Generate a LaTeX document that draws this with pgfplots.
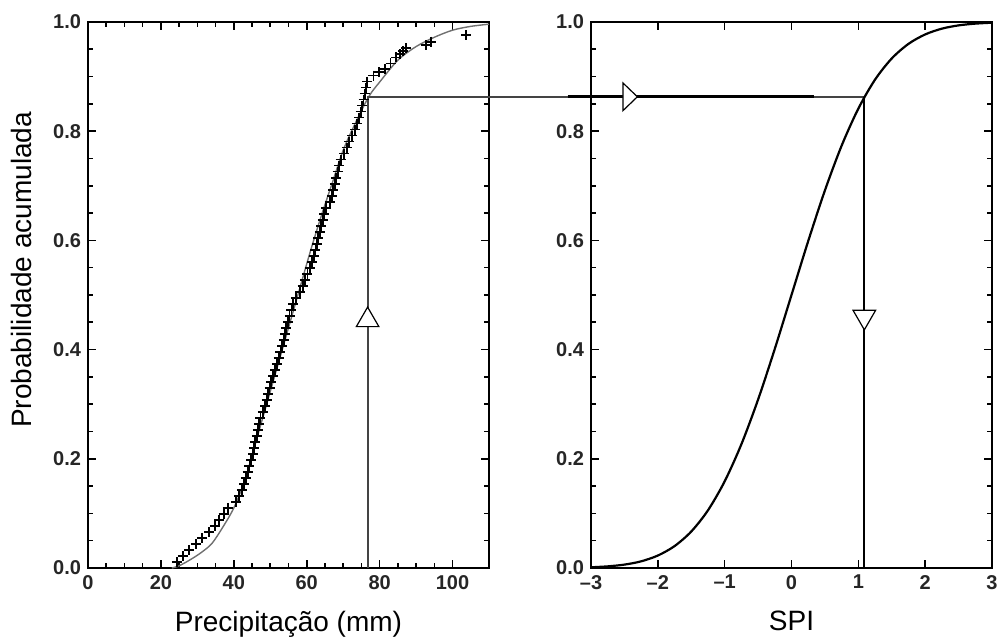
\documentclass[border=0pt]{standalone}
\usepackage{fontspec}
\setmainfont{Liberation Sans}
\usepackage{pgfplots}
\pgfplotsset{compat=1.18}
\definecolor{fitgray}{HTML}{707070}
\definecolor{guide}{HTML}{444444}

\pgfplotstableread{
x y
24.4 0.011
26.0 0.022
27.8 0.033
29.6 0.044
31.3 0.055
33.2 0.066
34.8 0.077
36.0 0.088
37.2 0.099
38.4 0.110
40.6 0.121
41.5 0.132
42.2 0.143
42.8 0.154
43.3 0.165
43.8 0.176
44.3 0.187
44.8 0.198
45.3 0.209
45.6 0.220
45.9 0.231
46.3 0.242
46.6 0.253
46.9 0.264
47.3 0.275
48.0 0.286
48.6 0.297
49.0 0.308
49.4 0.319
49.8 0.330
50.3 0.341
50.8 0.352
51.3 0.363
51.8 0.374
52.3 0.385
52.8 0.396
53.3 0.407
53.7 0.418
54.0 0.429
54.4 0.440
54.8 0.451
55.3 0.462
55.8 0.473
56.3 0.484
57.0 0.495
58.2 0.506
58.9 0.517
59.5 0.528
60.2 0.539
60.8 0.550
61.4 0.561
62.0 0.572
62.4 0.583
62.8 0.594
63.2 0.605
63.6 0.616
64.0 0.627
64.4 0.638
64.8 0.649
65.3 0.660
66.3 0.671
66.9 0.682
67.3 0.693
67.7 0.704
68.1 0.715
68.5 0.726
68.9 0.737
69.3 0.748
70.3 0.759
71.0 0.770
71.6 0.781
72.5 0.792
73.3 0.803
73.9 0.814
74.4 0.825
74.8 0.836
75.2 0.847
75.6 0.858
75.9 0.869
76.2 0.880
76.6 0.891
78.3 0.902
79.8 0.908
81.5 0.914
83.0 0.924
84.5 0.935
85.5 0.941
86.5 0.947
87.3 0.952
92.8 0.958
94.0 0.964
103.8 0.976
}\empirical

% fitted gamma cdf
\pgfplotstableread{
x y
23 0.000
25 0.004
28 0.015
31 0.028
34 0.045
37 0.075
40 0.110
43 0.160
46 0.230
49 0.300
52 0.370
55 0.440
58 0.510
61 0.580
64 0.645
67 0.705
70 0.765
73 0.810
77 0.863
80 0.890
85 0.930
90 0.955
95 0.972
100 0.985
105 0.992
110 0.996
}\gammafit

% standard normal cdf
\pgfplotstableread{
x y
-3 0.0013
-2.75 0.0030
-2.5 0.0062
-2.25 0.0122
-2 0.0228
-1.75 0.0401
-1.5 0.0668
-1.25 0.1056
-1 0.1587
-0.75 0.2266
-0.5 0.3085
-0.25 0.4013
0 0.5
0.25 0.5987
0.5 0.6915
0.75 0.7734
1 0.8413
1.25 0.8944
1.5 0.9332
1.75 0.9599
2 0.9772
2.25 0.9878
2.5 0.9938
2.75 0.9970
3 0.9987
}\normalcdf

\pgfplotsset{
  panel/.style={
    scale only axis, width=200.5pt, height=273pt,
    ymin=0, ymax=1,
    ytick={0,0.2,0.4,0.6,0.8,1}, minor y tick num=3,
    yticklabel style={/pgf/number format/.cd, fixed, fixed zerofill, precision=1},
    /pgf/number format/assume math mode=true,
    tick label style={font=\fontsize{10}{12}\selectfont\bfseries, text=black!85},
    label style={font=\fontsize{14}{17}\selectfont},
    xlabel style={yshift=-4pt},
    axis line style={line width=1pt},
    major tick length=4pt, minor tick length=2.5pt,
    every tick/.style={black, line width=0.8pt},
    clip=false,
  }
}

\begin{document}
\begin{tikzpicture}
\useasboundingbox (-44pt,-34.5pt) rectangle (454.5pt,284pt);
\begin{axis}[
  panel,
  xmin=0, xmax=110,
  xtick={0,20,40,60,80,100}, minor x tick num=3,
  xlabel={Precipitação (mm)},
  ylabel={Probabilidade acumulada},
  ylabel style={at={(axis description cs:-0.165,0.546)}, anchor=center},
]
\addplot[fitgray, line width=0.7pt, smooth] table {\gammafit};
\addplot[only marks, mark=+, mark size=2.5pt, mark options={line width=0.9pt}, black] table {\empirical};
% guide lines: up from 76.7 mm, then across to the SPI panel (x = 212.96 in these units)
\addplot[guide, line width=0.9pt] coordinates {(76.7,0) (76.7,0.863) (212.96,0.863)};
\addplot[only marks, mark=triangle*, mark size=6.5pt, mark options={fill=white, draw=black, line width=0.6pt}] coordinates {(76.7,0.454)};
\end{axis}

\begin{axis}[
  panel,
  at={(251.5pt,0pt)},
  xmin=-3, xmax=3,
  xtick={-3,-2,-1,0,1,2,3},
  xticklabels={\textendash3,\textendash2,\textendash1,0,1,2,3},
  xlabel={SPI},
]
\addplot[black, line width=1.1pt, smooth] table {\normalcdf};
\addplot[black, line width=0.9pt] coordinates {(1.09,0) (1.09,0.862)};
\addplot[black, line width=1.3pt] coordinates {(-3.35,0.863) (0.34,0.863)};
\addplot[only marks, mark=triangle*, mark size=8pt, mark options={rotate=-90, yscale=0.6, fill=white, draw=black, line width=0.6pt}] coordinates {(-2.45,0.863)};
\addplot[only marks, mark=triangle*, mark size=6.5pt, mark options={rotate=180, fill=white, draw=black, line width=0.6pt}] coordinates {(1.09,0.46)};
\end{axis}
\end{tikzpicture}
\end{document}
